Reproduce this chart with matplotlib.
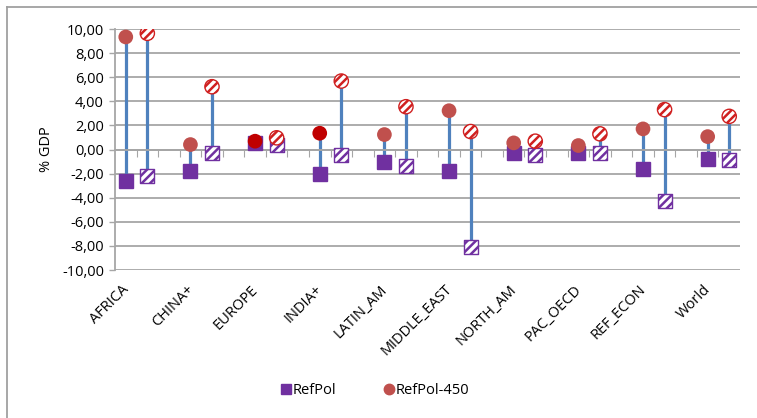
import numpy as np
import matplotlib
matplotlib.use("Agg")
import matplotlib.pyplot as plt
from matplotlib.lines import Line2D
import matplotlib.transforms as mtransforms

plt.rcParams['font.family'] = ['Open Sans', 'DejaVu Sans']

regions = ['AFRICA', 'CHINA+', 'EUROPE', 'INDIA+', 'LATIN_AM', 'MIDDLE_EAST',
           'NORTH_AM', 'PAC_OECD', 'REF_ECON', 'World']
# solid markers: RefPol / RefPol-450
refpol = [-2.64, -1.82, 0.50, -2.01, -1.07, -1.82, -0.30, -0.28, -1.65, -0.77]
refpol450 = [9.34, 0.41, 0.69, 1.35, 1.24, 3.22, 0.55, 0.33, 1.71, 1.07]
# hatched markers: second variant of both scenarios
refpol_alt = [-2.17, -0.27, 0.40, -0.47, -1.38, -8.07, -0.44, -0.30, -4.24, -0.85]
refpol450_alt = [9.64, 5.21, 0.97, 5.68, 3.55, 1.49, 0.69, 1.30, 3.31, 2.75]
dark_red = ['EUROPE', 'INDIA+']

purple = '#7030A0'
red = '#C0504D'
blue = '#4F81BD'
grid_c = '#A6A6A6'

fig = plt.figure(figsize=(7.57, 4.18), dpi=100)
ax = fig.add_axes([115 / 757, 1 - 270 / 418, 625 / 757, 241 / 418])

n = len(regions)
x_solid = np.arange(n) * 3
x_hatch = x_solid + 1

# drop lines between the two markers of each pair
ax.vlines(x_solid, refpol, refpol450, color=blue, lw=2.3, zorder=2)
ax.vlines(x_hatch, refpol_alt, refpol450_alt, color=blue, lw=2.3, zorder=2)

ax.plot(x_solid, refpol, 's', ms=10, color=purple, mec=purple, ls='none', zorder=3)
circ_cols = ['#C00000' if r in dark_red else red for r in regions]
ax.scatter(x_solid, refpol450, s=112, c=circ_cols, edgecolors='none', zorder=4)

with plt.rc_context({'hatch.color': purple, 'hatch.linewidth': 1.8}):
    ax.scatter(x_hatch, refpol_alt, s=100, marker='s', facecolor='white',
               edgecolors=purple, linewidths=1.0, hatch='////', zorder=3)
with plt.rc_context({'hatch.color': '#E01010', 'hatch.linewidth': 1.8}):
    ax.scatter(x_hatch, refpol450_alt, s=105, marker='o', facecolor='white',
               edgecolors='#D02020', linewidths=1.0, hatch='////', zorder=4)

ax.set_xlim(-0.5, 3 * n - 1.5)
ax.set_ylim(-10, 10)
yt = np.arange(-10, 10.1, 2)
ax.set_yticks(yt)
ax.set_yticklabels([f'{v:.2f}'.replace('.', ',') for v in yt], fontsize=10.5)
ax.yaxis.grid(True, color=grid_c, lw=1.3)
ax.set_axisbelow(True)

for s in ['top', 'right']:
    ax.spines[s].set_visible(False)
ax.spines['left'].set_color(grid_c)
ax.spines['left'].set_linewidth(1.3)
ax.spines['bottom'].set_position(('data', 0))
ax.spines['bottom'].set_color(grid_c)
ax.spines['bottom'].set_linewidth(1.3)
ax.set_xticks(np.arange(0.5, 3 * n - 1.5, 1))
ax.tick_params(axis='x', length=5, width=0.8, color=grid_c, labelbottom=False)
ax.tick_params(axis='y', length=4, width=1, color=grid_c, pad=4)

trans = mtransforms.blended_transform_factory(ax.transData, ax.transAxes)
for xi, name in zip(x_solid, regions):
    ax.text(xi - 0.2, -0.05, name, transform=trans, rotation=45,
            rotation_mode='anchor', ha='right', va='top', fontsize=10.5)

ax.set_ylabel('% GDP', fontsize=10.5, labelpad=6)

handles = [Line2D([], [], marker='s', ls='none', color=purple, ms=6.5),
           Line2D([], [], marker='o', ls='none', color=red, ms=7.5)]
fig.legend(handles, ['RefPol', 'RefPol-450'], loc='center',
           bbox_to_anchor=(0.495, 1 - 391 / 418), ncol=2, frameon=False,
           fontsize=10.5, handletextpad=0.05, columnspacing=3.2, handlelength=0.8)

# outer chart border (top and left edges)
fig.add_artist(Line2D([6.5 / 757, 1], [1 - 6.5 / 418] * 2, color='#A0A0A0', lw=1.3))
fig.add_artist(Line2D([6.5 / 757] * 2, [0, 1 - 6.5 / 418], color='#A0A0A0', lw=1.3))

fig.savefig('out.png', dpi=100)
